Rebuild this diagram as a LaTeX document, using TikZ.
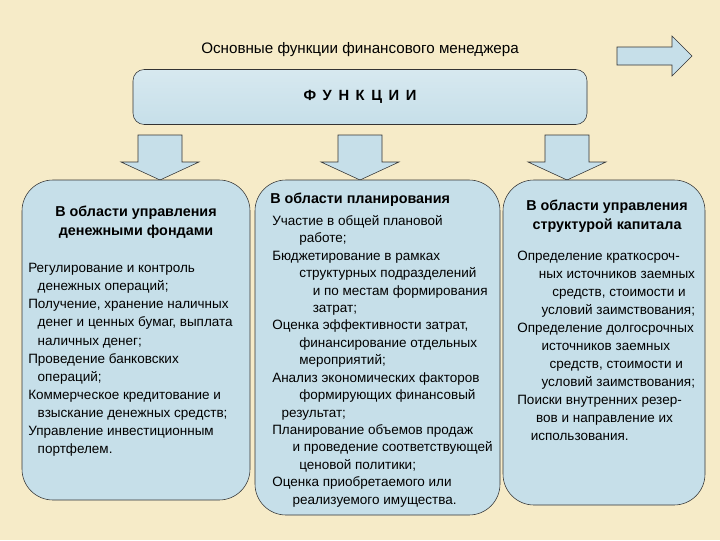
\documentclass[tikz,border=0pt]{standalone}
\usepackage{fontspec}
\setmainfont{Liberation Sans}
\begin{document}
\begin{tikzpicture}[x=0.025cm,y=-0.025cm,
  boxs/.style={draw=black!80,fill=boxblue,rounded corners=22},
  arr/.style={draw=black!80,fill=boxblue},
  txt/.style={anchor=north west,align=left,inner sep=0pt,font=\fontsize{9.6}{12.4}\selectfont},
  hdr/.style={align=center,inner sep=0pt,font=\fontsize{10.2}{13.5}\selectfont\bfseries}]
\definecolor{boxblue}{HTML}{C6DFE9}
\definecolor{bg}{HTML}{F6EBC8}
\fill[bg] (0,0) rectangle (720,540);
\useasboundingbox (0,0) rectangle (720,540);
\node[inner sep=0pt,font=\fontsize{10.8}{12}\selectfont] (title) at (360,50) {Основные функции финансового менеджера};
\draw[arr] (617,47) -- (672,47) -- (672,36) -- (692,56) -- (672,76) -- (672,65) -- (617,65) -- cycle;
\node[boxs,rounded corners=8,minimum width=454*0.025cm,minimum height=55*0.025cm,top color=boxblue!70!white,bottom color=boxblue] (f) at (360,97) {};
\node[font=\fontsize{10.5}{12}\selectfont\bfseries] at (f) {Ф\, У\, Н\, К\, Ц\, И\, И};
\foreach \c/\n in {160/a1,360/a2,567/a3}{
  \draw[arr] (\c-22,135) -- (\c+22,135) -- (\c+22,162) -- (\c+39,162) -- (\c,180) -- (\c-39,162) -- (\c-22,162) -- cycle;
}
\draw[boxs] (22,180) rectangle (250,500);
\draw[boxs] (255,180) rectangle (500,515);
\draw[boxs] (503,180) rectangle (705,505);
\node[hdr] (h1) at (136,222) {В области управления\\денежными фондами};
\node[txt,font=\fontsize{9.6}{12.9}\selectfont] (t1) at (28,263) {Регулирование и контроль\\
\hspace*{0.7em}денежных операций;\\
Получение, хранение наличных\\
\hspace*{0.7em}денег и ценных бумаг, выплата\\
\hspace*{0.7em}наличных денег;\\
Проведение банковских\\
\hspace*{0.7em}операций;\\
Коммерческое кредитование и\\
\hspace*{0.7em}взыскание денежных средств;\\
Управление инвестиционным\\
\hspace*{0.7em}портфелем.};
\node[hdr,anchor=west] (h2) at (270,200) {В области планирования};
\node[txt] (t2) at (272,215) {Участие в общей плановой\\
\hspace*{2em}работе;\\
Бюджетирование в рамках\\
\hspace*{2em}структурных подразделений\\
\hspace*{3em}и по местам формирования\\
\hspace*{3em}затрат;\\
Оценка эффективности затрат,\\
\hspace*{2em}финансирование отдельных\\
\hspace*{2em}мероприятий;\\
Анализ экономических факторов\\
\hspace*{2em}формирующих финансовый\\
\hspace*{0.7em}результат;\\
Планирование объемов продаж\\
\hspace*{1.5em}и проведение соответствующей\\
\hspace*{2em}ценовой политики;\\
Оценка приобретаемого или\\
\hspace*{1.5em}реализуемого имущества.};
\node[hdr] (h3) at (607,216) {В области управления\\структурой капитала};
\node[txt,font=\fontsize{9.6}{12.8}\selectfont] (t3) at (517,251) {Определение краткосроч-\\
\hspace*{1.6em}ных источников заемных\\
\hspace*{2.6em}средств, стоимости и\\
\hspace*{1.8em}условий заимствования;\\
Определение долгосрочных\\
\hspace*{1.8em}источников заемных\\
\hspace*{2.4em}средств, стоимости и\\
\hspace*{1.8em}условий заимствования;\\
Поиски внутренних резер-\\
\hspace*{1.4em}вов и направление их\\
\hspace*{1em}использования.};
\end{tikzpicture}
\end{document}
